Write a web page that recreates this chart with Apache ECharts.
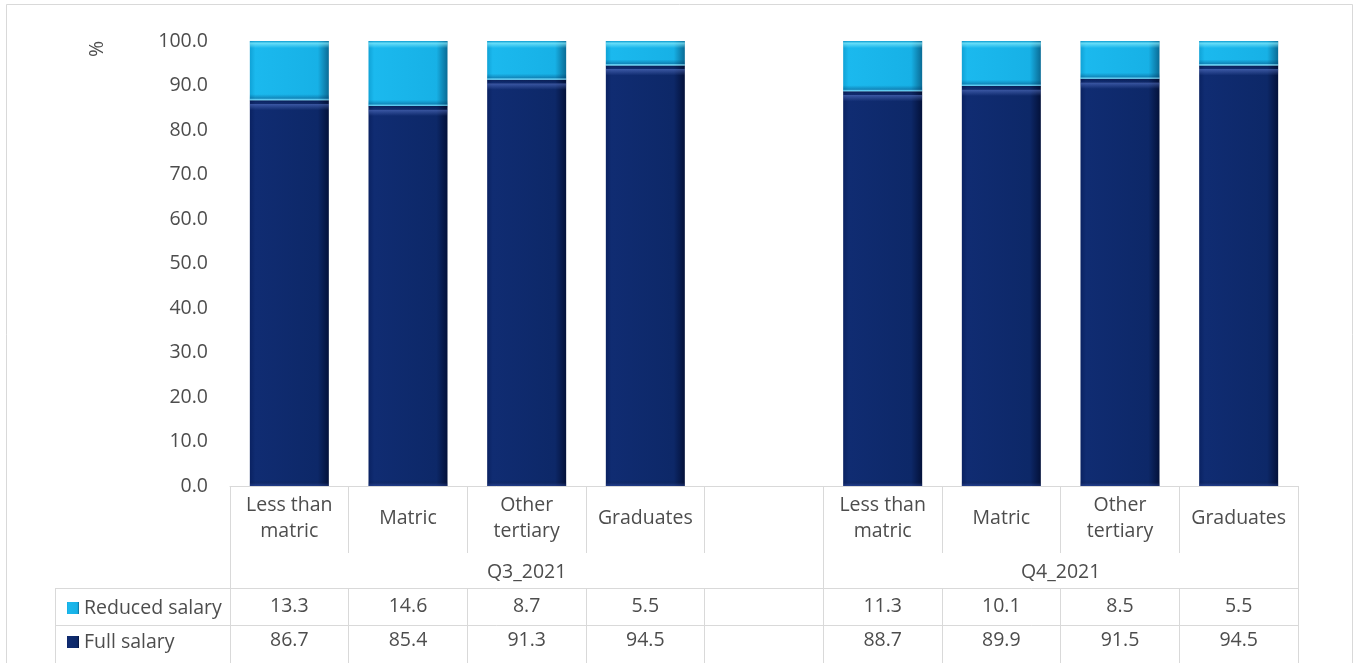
<!DOCTYPE html>
<html>
<head>
<meta charset="utf-8">
<script src="https://cdn.jsdelivr.net/npm/echarts@6/dist/echarts.min.js"></script>
<style>
  html, body { margin: 0; padding: 0; background: #ffffff; }
  #chart { width: 1354px; height: 663px; }
</style>
</head>
<body>
<div id="chart"></div>
<script>
// Education level per quarter (an empty slot separates the two quarters)
const categories = ['Less than\nmatric', 'Matric', 'Other\ntertiary', 'Graduates', '',
                    'Less than\nmatric', 'Matric', 'Other\ntertiary', 'Graduates'];
const groupNames = ['Q3_2021', 'Q4_2021'];
const groupSizes = [5, 4];
const reducedSalary = [13.3, 14.6, 8.7, 5.5, null, 11.3, 10.1, 8.5, 5.5];
const fullSalary    = [86.7, 85.4, 91.3, 94.5, null, 88.7, 89.9, 91.5, 94.5];
const yMin = 0, yMax = 100, yStep = 10;

// group boundaries and centres along the category slots
const groupEdges = [0];
groupSizes.forEach(s => groupEdges.push(groupEdges[groupEdges.length - 1] + s));
const groupCenters = groupNames.map((_, i) => (groupEdges[i] + groupEdges[i + 1]) / 2);

const FONT = 'Open Sans';
const FS = 19.5;
const TEXT = '#4d4d4d';
const RULE = '#d9d9d9';
const PLOT_H = 445;          // grid height in px, used to size the bevel highlights
const fmt = v => (v == null ? '' : v.toFixed(1));
const slotIds = categories.map((_, i) => String(i));

const fullColor = new echarts.graphic.LinearGradient(0, 0, 1, 0, [
  { offset: 0, color: '#0a2262' },
  { offset: 0.07, color: '#102c72' },
  { offset: 0.86, color: '#0d2868' },
  { offset: 1, color: '#03113a' }
]);
const reducedColor = new echarts.graphic.LinearGradient(0, 0, 1, 0, [
  { offset: 0, color: '#10a2d6' },
  { offset: 0.07, color: '#1bb9ee' },
  { offset: 0.86, color: '#17b1e6' },
  { offset: 1, color: '#0a6b95' }
]);

// vertical bevel highlight laid over each segment (stops given in px from the top)
function bevel(v, stopsPx) {
  if (v == null) return { value: v };
  const h = Math.max(v / (yMax - yMin) * PLOT_H, 1);
  const clamp = x => Math.min(Math.max(x, 0), 1);
  return {
    value: v,
    itemStyle: {
      color: new echarts.graphic.LinearGradient(0, 0, 0, 1,
        stopsPx.map(([px, c]) => ({ offset: clamp(px < 0 ? (h + px) / h : px / h), color: c })))
    }
  };
}
const fullBevel = fullSalary.map(v => bevel(v, [
  [0, 'rgba(0,0,20,0.25)'], [3, 'rgba(0,0,20,0)'], [4, 'rgba(110,140,225,0.45)'],
  [10, 'rgba(110,140,225,0)'], [-5, 'rgba(0,0,0,0)'], [-1, 'rgba(60,85,170,0.35)']
]));
const reducedBevel = reducedSalary.map(v => bevel(v, [
  [0, 'rgba(0,120,170,0.3)'], [2, 'rgba(140,240,255,0.7)'], [7, 'rgba(140,240,255,0)'],
  [-6, 'rgba(0,50,100,0)'], [-2, 'rgba(0,50,100,0.35)'], [-1, 'rgba(150,220,245,0.55)']
]));

// one table row drawn as an extra category axis under the plot
function rowAxis(offset, values, tickLen, margin, showLine) {
  return {
    type: 'category', gridIndex: 0, position: 'bottom', offset: offset,
    data: slotIds, boundaryGap: true,
    axisLine: { show: showLine, lineStyle: { color: RULE, width: 1 } },
    axisTick: { show: true, interval: 0, length: tickLen, lineStyle: { color: RULE } },
    axisLabel: {
      interval: 0, margin: margin, color: TEXT, fontFamily: FONT, fontSize: FS, lineHeight: 26,
      verticalAlign: 'middle',
      formatter: (v, i) => values[i]
    }
  };
}

const chart = echarts.init(document.getElementById('chart'), null, { renderer: 'canvas' });
chart.setOption({
  animation: false,
  backgroundColor: '#ffffff',
  grid: { left: 230, right: 56, top: 41, bottom: 177, containLabel: false },
  legend: {
    orient: 'vertical', left: 62, top: 593,
    itemWidth: 12, itemHeight: 12, itemGap: 14,
    icon: 'rect',
    data: ['Reduced salary', 'Full salary'],
    textStyle: { color: TEXT, fontFamily: FONT, fontSize: FS, lineHeight: 20 }
  },
  xAxis: [
    rowAxis(0, categories, 67, 32, true),
    {
      type: 'value', gridIndex: 0, position: 'bottom', offset: 67,
      min: 0, max: categories.length,
      axisLine: { show: false },
      splitLine: { show: false },
      axisTick: { show: true, length: 35, customValues: groupEdges, lineStyle: { color: RULE } },
      axisLabel: {
        margin: 6, color: TEXT, fontFamily: FONT, fontSize: FS, lineHeight: 26,
        customValues: groupCenters,
        formatter: v => groupNames[groupCenters.indexOf(v)] || ''
      }
    },
    rowAxis(102, reducedSalary.map(fmt), 37, 18, true),
    rowAxis(139, fullSalary.map(fmt), 40, 15, true)
  ],
  yAxis: {
    type: 'value', min: yMin, max: yMax, interval: yStep,
    axisLine: { show: false }, axisTick: { show: false }, splitLine: { show: false },
    axisLabel: { margin: 22, color: TEXT, fontFamily: FONT, fontSize: FS, formatter: v => v.toFixed(1) }
  },
  graphic: [
    { type: 'rect', silent: true, shape: { x: 6.5, y: 4.5, width: 1346, height: 700 },
      style: { fill: 'none', stroke: RULE, lineWidth: 1 } },
    { type: 'text', silent: true, x: 97, y: 49, rotation: Math.PI / 2,
      style: { text: '%', fill: TEXT, font: FS + 'px "' + FONT + '"', align: 'center', verticalAlign: 'middle' } },
    { type: 'line', silent: true, shape: { x1: 55, y1: 588.5, x2: 230, y2: 588.5 }, style: { stroke: RULE } },
    { type: 'line', silent: true, shape: { x1: 55, y1: 625.5, x2: 230, y2: 625.5 }, style: { stroke: RULE } },
    { type: 'line', silent: true, shape: { x1: 55.5, y1: 588, x2: 55.5, y2: 663 }, style: { stroke: RULE } }
  ],
  series: [
    {
      name: 'Full salary', type: 'bar', stack: 'pay', xAxisIndex: 0, barWidth: 79, barGap: '-100%',
      data: fullSalary,
      itemStyle: { color: fullColor }
    },
    {
      name: 'Reduced salary', type: 'bar', stack: 'pay', xAxisIndex: 0, barWidth: 79, barGap: '-100%',
      data: reducedSalary,
      itemStyle: { color: reducedColor }
    },
    // bevel highlights over the same stacked segments
    {
      name: 'Full salary bevel', type: 'bar', stack: 'bevel', xAxisIndex: 0, barWidth: 79, barGap: '-100%',
      silent: true, data: fullBevel
    },
    {
      name: 'Reduced salary bevel', type: 'bar', stack: 'bevel', xAxisIndex: 0, barWidth: 79, barGap: '-100%',
      silent: true, data: reducedBevel
    }
  ]
});
</script>
</body>
</html>
